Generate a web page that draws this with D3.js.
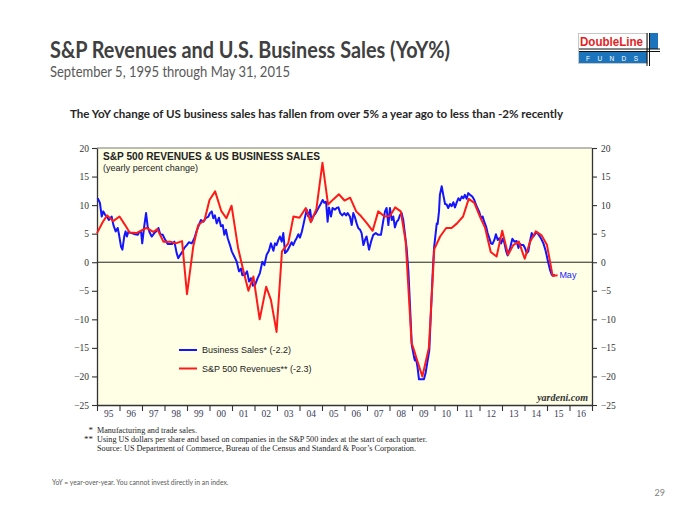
<!DOCTYPE html>
<html><head><meta charset="utf-8">
<script src="https://cdn.jsdelivr.net/npm/d3@7"></script>
<style>body{margin:0;background:#fff}svg{display:block}</style>
</head><body><svg id="c" width="700" height="525"></svg>
<script>
const yearLabels = ["95","96","97","98","99","00","01","02","03","04","05","06","07","08","09","10","11","12","13","14","15","16"];
const yTicks = [20,15,10,5,0,-5,-10,-15,-20,-25];
const legendLabels = ["Business Sales* (-2.2)", "S&P 500 Revenues** (-2.3)"];
const footnotes = ["Manufacturing and trade sales.",
  "Using US dollars per share and based on companies in the S&P 500 index at the start of each quarter.",
  "Source: US Department of Commerce, Bureau of the Census and Standard & Poor\u2019s Corporation."];
const footnoteWidths = [100, 330, 319];

// [decimal year, yearly % change]
const businessSales = [
[1995.03,11.2],[1995.13,10.4],[1995.21,8.0],[1995.28,8.9],[1995.36,8.3],[1995.43,8.0],[1995.53,7.4],[1995.65,8.0],[1995.73,6.5],[1995.83,5.4],[1995.92,6.0],[1995.98,4.8],
[1996.07,2.7],[1996.13,2.2],[1996.21,4.5],[1996.27,5.4],[1996.33,4.5],[1996.39,5.3],[1996.54,5.1],[1996.69,4.9],[1996.81,4.8],[1996.88,5.3],[1996.96,5.3],
[1997.01,3.3],[1997.10,6.3],[1997.18,8.6],[1997.25,6.3],[1997.33,5.3],[1997.43,4.5],[1997.55,5.1],[1997.65,5.5],[1997.73,6.0],[1997.81,4.9],[1997.92,4.8],
[1998.02,4.0],[1998.14,3.2],[1998.24,3.2],[1998.35,3.2],[1998.44,3.6],[1998.54,1.6],[1998.61,0.7],[1998.70,1.3],[1998.79,1.8],[1998.88,2.5],[1998.99,3.0],
[1999.09,3.5],[1999.21,3.3],[1999.33,4.2],[1999.43,5.5],[1999.53,6.5],[1999.62,7.4],[1999.73,7.1],[1999.83,7.7],[1999.95,8.0],
[2000.02,8.6],[2000.10,8.9],[2000.17,7.7],[2000.24,8.2],[2000.32,6.8],[2000.42,7.8],[2000.51,6.3],[2000.59,6.5],[2000.66,4.8],[2000.73,5.7],[2000.81,4.2],[2000.91,3.0],[2000.99,1.9],
[2001.10,1.0],[2001.21,0.1],[2001.31,-1.6],[2001.40,-1.1],[2001.46,-2.3],[2001.58,-2.2],[2001.67,-1.6],[2001.76,-3.4],[2001.84,-2.8],[2001.93,-4.1],
[2002.02,-4.0],[2002.14,-2.8],[2002.24,-1.9],[2002.35,0.1],[2002.44,-0.5],[2002.54,1.3],[2002.64,2.0],[2002.73,3.3],[2002.84,2.0],[2002.91,3.3],[2002.98,3.0],
[2003.06,3.9],[2003.13,4.5],[2003.21,3.6],[2003.28,5.1],[2003.36,1.6],[2003.46,2.0],[2003.55,2.7],[2003.65,3.5],[2003.72,3.0],[2003.80,3.7],[2003.87,4.2],[2003.95,4.9],
[2004.02,4.3],[2004.10,5.3],[2004.17,6.5],[2004.24,7.8],[2004.32,9.2],[2004.39,8.0],[2004.47,9.2],[2004.54,7.3],[2004.61,8.0],[2004.72,8.6],[2004.84,9.5],[2004.94,10.2],
[2005.03,10.9],[2005.10,10.4],[2005.18,10.6],[2005.25,7.1],[2005.31,9.6],[2005.40,8.0],[2005.47,9.5],[2005.58,9.2],[2005.65,9.5],[2005.73,9.6],[2005.81,8.6],[2005.90,8.2],[2005.99,8.6],
[2006.07,8.2],[2006.14,8.6],[2006.24,8.0],[2006.32,6.5],[2006.39,8.6],[2006.47,7.8],[2006.54,6.8],[2006.61,6.0],[2006.69,5.7],[2006.76,5.1],[2006.84,3.0],[2006.91,3.9],[2006.98,4.5],
[2007.09,2.2],[2007.18,3.6],[2007.28,4.8],[2007.39,5.1],[2007.50,4.8],[2007.62,4.8],[2007.73,7.4],[2007.80,8.9],[2007.87,9.5],[2007.95,6.5],
[2008.02,9.5],[2008.10,7.4],[2008.17,8.0],[2008.24,6.1],[2008.32,7.1],[2008.39,7.4],[2008.47,8.3],[2008.54,8.6],[2008.61,7.4],[2008.69,4.8],[2008.76,2.5],[2008.84,-1.6],[2008.91,-7.5],[2008.99,-14.5],
[2009.10,-16.8],[2009.13,-17.2],[2009.17,-16.6],[2009.25,-18.5],[2009.31,-20.5],[2009.53,-20.5],[2009.60,-19.5],[2009.77,-15.4],[2009.85,-8.0],[2009.93,-1.0],[2009.98,2.5],
[2010.02,3.9],[2010.10,6.8],[2010.14,6.7],[2010.20,8.9],[2010.24,11.8],[2010.32,13.3],[2010.39,11.8],[2010.47,10.2],[2010.54,10.1],[2010.61,9.5],[2010.69,10.2],[2010.76,9.8],[2010.84,10.5],[2010.91,9.6],[2010.98,10.4],
[2011.06,11.2],[2011.13,10.8],[2011.21,11.5],[2011.28,11.2],[2011.35,11.8],[2011.43,11.1],[2011.50,12.1],[2011.58,11.8],[2011.68,11.5],[2011.77,10.9],[2011.87,9.8],[2011.98,8.9],
[2012.07,7.7],[2012.14,8.0],[2012.21,7.1],[2012.29,6.3],[2012.36,5.1],[2012.44,4.2],[2012.51,3.3],[2012.58,3.2],[2012.66,3.9],[2012.73,4.9],[2012.81,3.9],[2012.88,4.2],[2012.96,3.3],
[2013.03,4.1],[2013.10,3.5],[2013.18,2.0],[2013.25,1.2],[2013.36,2.5],[2013.46,4.1],[2013.55,3.6],[2013.65,3.7],[2013.73,2.5],[2013.80,3.2],[2013.87,3.0],[2013.95,3.0],
[2014.02,2.5],[2014.10,1.6],[2014.17,1.9],[2014.24,3.6],[2014.32,5.1],[2014.39,4.5],[2014.47,4.9],[2014.54,5.3],[2014.61,4.9],[2014.73,4.2],[2014.84,3.3],[2014.94,2.0],
[2015.03,0.4],[2015.13,-1.3],[2015.21,-2.2],[2015.28,-2.3],[2015.35,-2.2]
];

const spRevenues = [
[1995.0,5.1],[1995.25,7.0],[1995.45,8.2],[1995.72,7.2],[1996.0,8.0],[1996.25,6.5],[1996.45,5.2],[1996.75,5.1],[1997.0,5.6],[1997.2,6.0],[1997.5,5.3],[1997.68,5.8],
[1997.95,3.6],[1998.25,3.6],[1998.5,3.3],[1998.78,3.7],[1999.0,-5.6],[1999.28,2.8],[1999.5,6.5],[1999.78,7.4],[2000.0,10.9],[2000.25,12.4],[2000.52,9.0],[2000.75,7.7],
[2000.98,9.9],[2001.27,2.5],[2001.5,-1.4],[2001.73,-5.0],[2001.95,-2.5],[2002.23,-10.0],[2002.52,-4.3],[2002.73,-6.6],[2002.98,-12.2],[2003.22,1.9],[2003.5,3.3],[2003.73,8.0],
[2004.0,7.8],[2004.28,9.5],[2004.5,7.0],[2004.75,9.3],[2005.02,17.4],[2005.27,10.1],[2005.5,11.0],[2005.75,11.9],[2006.0,10.8],[2006.25,11.3],[2006.52,8.9],[2006.75,8.0],
[2007.0,6.8],[2007.25,5.5],[2007.5,8.9],[2007.78,8.0],[2008.02,8.1],[2008.25,9.6],[2008.5,8.9],[2008.72,3.6],[2008.98,-14.1],[2009.1,-15.5],[2009.2,-16.8],[2009.46,-20.0],
[2009.75,-15.0],[2009.99,2.3],[2010.25,4.5],[2010.52,6.0],[2010.76,6.0],[2011.0,6.8],[2011.27,8.0],[2011.52,11.1],[2011.77,10.4],[2012.02,8.0],[2012.25,6.0],[2012.5,1.8],
[2012.76,1.0],[2013.01,5.5],[2013.27,1.3],[2013.5,3.0],[2013.75,3.6],[2014.01,0.6],[2014.25,3.6],[2014.5,5.4],[2014.76,4.7],[2015.0,3.0],[2015.25,-2.4],[2015.47,-2.3]
];

const svg = d3.select("#c");
const x = d3.scaleLinear().domain([1995, 2017]).range([97, 592]);
const y = d3.scaleLinear().domain([-25, 20]).range([405, 148]);
const serif = "'Liberation Serif','Times New Roman',serif";
const sans = "'Liberation Sans',Arial,sans-serif";
const slide = "Lato,'Open Sans',sans-serif";

// Header
svg.append("text").attr("x", 50).attr("y", 58).attr("font-family", slide).attr("font-weight", 700)
  .attr("font-size", 23).attr("fill", "#404040").attr("textLength", 400).attr("lengthAdjust", "spacingAndGlyphs")
  .text("S&P Revenues and U.S. Business Sales (YoY%)");
svg.append("text").attr("x", 50).attr("y", 77).attr("font-family", slide)
  .attr("font-size", 14.5).attr("fill", "#595959").attr("textLength", 240).attr("lengthAdjust", "spacingAndGlyphs")
  .text("September 5, 1995 through May 31, 2015");
svg.append("text").attr("x", 70).attr("y", 118).attr("font-family", slide).attr("font-weight", 700)
  .attr("font-size", 12).attr("fill", "#262626").attr("textLength", 493).attr("lengthAdjust", "spacingAndGlyphs")
  .text("The YoY change of US business sales has fallen from over 5% a year ago to less than -2% recently");

// Logo
const logo = svg.append("g");
logo.append("rect").attr("x", 578.5).attr("y", 33.5).attr("width", 69).attr("height", 30).attr("fill", "#fff").attr("stroke", "#bbb").attr("stroke-width", 0.8);
logo.append("text").attr("x", 580).attr("y", 46).attr("font-family", sans).attr("font-weight", 700)
  .attr("font-size", 12).attr("fill", "#E31E24").attr("textLength", 63).attr("lengthAdjust", "spacingAndGlyphs").text("DoubleLine");
logo.append("rect").attr("x", 579).attr("y", 52).attr("width", 68).attr("height", 11).attr("fill", "#1C75BC");
logo.append("text").attr("x", 586).attr("y", 60.5).attr("font-family", sans).attr("font-size", 6.5)
  .attr("fill", "#fff").attr("textLength", 52).text("F U N D S");
logo.append("rect").attr("x", 649).attr("y", 33).attr("width", 9).attr("height", 16).attr("fill", "#1C75BC");
[49, 51.5].forEach(v => logo.append("line").attr("x1", 579).attr("x2", 660).attr("y1", v).attr("y2", v).attr("stroke", "#111").attr("stroke-width", 1));
[647, 649.5].forEach(v => logo.append("line").attr("x1", v).attr("x2", v).attr("y1", 33).attr("y2", 66).attr("stroke", "#111").attr("stroke-width", 1));

// Plot background
svg.append("rect").attr("x", x(1995)).attr("y", y(20)).attr("width", x(2017) - x(1995)).attr("height", y(-25) - y(20))
  .attr("fill", "#FFFFE6");
svg.append("line").attr("x1", x(1995)).attr("x2", x(2017)).attr("y1", y(20)).attr("y2", y(20)).attr("stroke", "#777").attr("stroke-width", 1.2);
svg.append("line").attr("x1", x(1995)).attr("x2", x(2017)).attr("y1", y(0)).attr("y2", y(0)).attr("stroke", "#222").attr("stroke-width", 1);

// Axes
function styleAxis(g) {
  g.selectAll(".domain").attr("stroke", "#333").attr("stroke-width", 1.3);
  g.selectAll(".tick line").attr("stroke", "#333").attr("stroke-width", 1.1);
  g.selectAll(".tick text").attr("font-family", serif).attr("font-size", 9.5).attr("fill", "#333");
}
svg.append("g").attr("transform", `translate(${x(1995)},0)`)
  .call(d3.axisLeft(y).tickValues(yTicks).tickSize(5).tickSizeOuter(0).tickPadding(3).tickFormat(d3.format("d")))
  .call(styleAxis);
svg.append("g").attr("transform", `translate(${x(2017)},0)`)
  .call(d3.axisRight(y).tickValues(yTicks).tickSize(5).tickSizeOuter(0).tickPadding(4).tickFormat(d3.format("d")))
  .call(styleAxis);
svg.append("g").attr("transform", `translate(0,${y(-25)})`)
  .call(d3.axisBottom(x).tickValues(d3.range(1995, 2018)).tickSize(6).tickSizeOuter(0).tickFormat(""))
  .call(styleAxis);
svg.append("g").attr("transform", `translate(0,${y(-25)})`)
  .call(d3.axisBottom(x).tickValues(yearLabels.map((d, i) => 1995.5 + i)).tickSize(0).tickPadding(5)
    .tickFormat((d, i) => yearLabels[i]))
  .call(styleAxis).call(g => g.select(".domain").remove())
  .call(g => g.selectAll(".tick text").attr("fill", "#3a3a55"));

// Lines
const line = d3.line().x(d => x(d[0])).y(d => y(d[1]));
svg.append("path").datum(businessSales).attr("d", line).attr("fill", "none").attr("stroke", "#1414FF")
  .attr("stroke-width", 2).attr("stroke-linejoin", "round");
svg.append("path").datum(spRevenues).attr("d", line).attr("fill", "none").attr("stroke", "#FF1A1A")
  .attr("stroke-width", 2).attr("stroke-linejoin", "round");

// "May" label
const lastB = businessSales[businessSales.length - 1];
svg.append("text").attr("x", x(2015.55)).attr("y", y(lastB[1]) + 3).attr("font-family", sans)
  .attr("font-size", 9).attr("fill", "#2222FF").text("May");

// Chart titles
svg.append("text").attr("x", 103).attr("y", 160).attr("font-family", sans).attr("font-weight", 700)
  .attr("font-size", 10).attr("fill", "#222").attr("textLength", 217).attr("lengthAdjust", "spacingAndGlyphs")
  .text("S&P 500 REVENUES & US BUSINESS SALES");
svg.append("text").attr("x", 103).attr("y", 171).attr("font-family", sans)
  .attr("font-size", 8.5).attr("fill", "#222").attr("textLength", 95).attr("lengthAdjust", "spacingAndGlyphs")
  .text("(yearly percent change)");

// Legend
const legColors = ["#1414FF", "#FF1A1A"];
legendLabels.forEach((t, i) => {
  const ly = 350 + i * 18.5;
  svg.append("line").attr("x1", 179).attr("x2", 197).attr("y1", ly).attr("y2", ly).attr("stroke", legColors[i]).attr("stroke-width", 2);
  svg.append("text").attr("x", 202).attr("y", ly + 3.3).attr("font-family", sans).attr("font-size", 9)
    .attr("fill", "#222").text(t);
});

// Source mark
svg.append("text").attr("x", 588).attr("y", 401).attr("text-anchor", "end").attr("font-family", serif)
  .attr("font-style", "italic").attr("font-weight", 700).attr("font-size", 10).attr("fill", "#333").text("yardeni.com");

// Footnotes
const marks = ["*", "**", ""];
footnotes.forEach((t, i) => {
  const fy = 433 + i * 8.8;
  svg.append("text").attr("x", 93).attr("y", fy).attr("text-anchor", "end").attr("font-family", serif)
    .attr("font-size", 9).attr("fill", "#222").text(marks[i]);
  svg.append("text").attr("x", 97).attr("y", fy).attr("font-family", serif)
    .attr("font-size", 9).attr("fill", "#222").attr("textLength", footnoteWidths[i])
    .attr("lengthAdjust", "spacingAndGlyphs").text(t);
});

svg.append("text").attr("x", 52).attr("y", 485).attr("font-family", slide).attr("font-size", 6.8)
  .attr("fill", "#595959").text("YoY = year-over-year. You cannot invest directly in an index.");
svg.append("text").attr("x", 665).attr("y", 496).attr("text-anchor", "end").attr("font-family", slide)
  .attr("font-size", 9).attr("fill", "#7f7f7f").text("29");
</script></body></html>
